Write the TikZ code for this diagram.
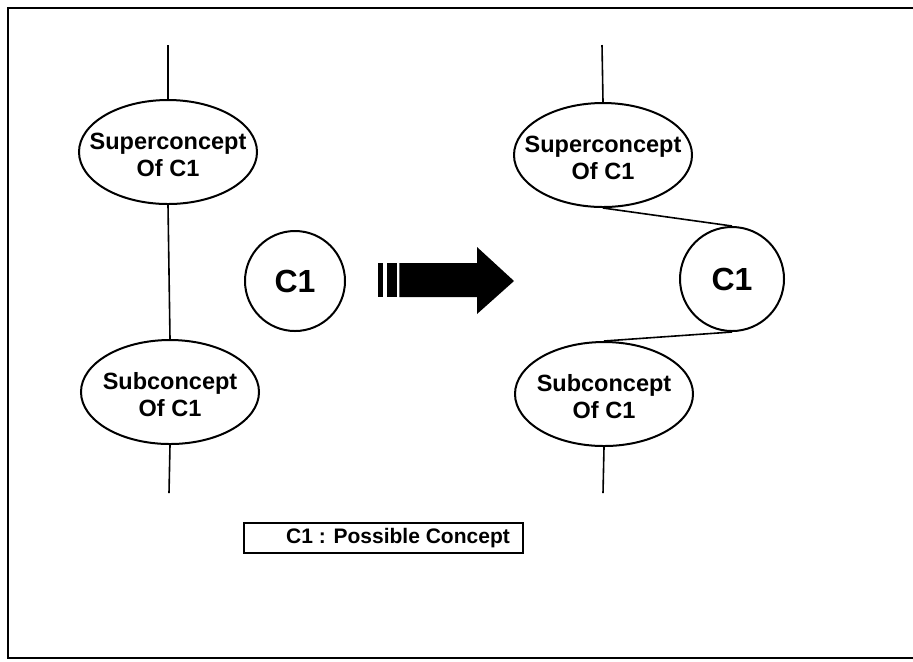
\documentclass[tikz,border=0pt]{standalone}
\usepackage{fontspec}
\setmainfont{Liberation Sans}
\usetikzlibrary{shapes.geometric}
\begin{document}
\begin{tikzpicture}[x=0.5pt,y=-0.5pt,
  concept/.style={draw,ellipse,line width=1pt,minimum width=89pt,minimum height=52pt,inner sep=0pt},
  conceptlabel/.style={align=center,font=\fontsize{11.75}{13.5}\selectfont\bfseries,inner sep=0pt},
  cnode/.style={draw,circle,line width=1pt,inner sep=0pt},
  clabel/.style={font=\fontsize{16}{18}\selectfont\bfseries,inner sep=0pt},
  link/.style={line width=0.8pt}]
\useasboundingbox (0,0) rectangle (913,661);
% open frame
\draw[line width=1.3pt] (913,8) -- (8,8) -- (8,658) -- (913,658);

% left: before insertion
\coordinate (ltop) at (168,45);
\coordinate (lbot) at (169,493);
\node[concept] (sup1) at (168,152) {};
\node[conceptlabel] (sup1t) at (168,155) {Superconcept\\Of C1};
\node[concept] (sub1) at (170,392) {};
\node[conceptlabel] (sub1t) at (170,395) {Subconcept\\Of C1};
\node[cnode,minimum size=50pt] (c1) at (295,281) {};
\node[clabel] (c1t) at (295,281) {C1};
\draw[link] (ltop) -- (sup1.north);
\draw[link] (sup1.south) -- (sub1.north);
\draw[link] (sub1.south) -- (lbot);

% big arrow
\fill (378,263) rectangle (383.3,297);
\fill (386.7,263) rectangle (396.7,297);
\fill (399.3,263) -- (477,263) -- (477,247) -- (514,281) -- (477,314) -- (477,297) -- (399.3,297) -- cycle;

% right: after insertion
\coordinate (rtop) at (602,45);
\coordinate (rbot) at (603,493);
\node[concept] (sup2) at (603,155) {};
\node[conceptlabel] (sup2t) at (603,158) {Superconcept\\Of C1};
\node[concept] (sub2) at (604,394) {};
\node[conceptlabel] (sub2t) at (604,397) {Subconcept\\Of C1};
\node[cnode,minimum size=52pt] (c2) at (732,279) {};
\node[clabel] (c2t) at (732,279) {C1};
\draw[link] (rtop) -- (sup2.north);
\draw[link] (sup2.south) -- (c2.north);
\draw[link] (c2.south) -- (sub2.north);
\draw[link] (sub2.south) -- (rbot);

% legend
\node[draw,line width=1pt,minimum width=139.5pt,minimum height=15pt,inner sep=0pt] (legend) at (383.5,538) {};
\node[font=\fontsize{10.5}{12}\selectfont\bfseries,inner sep=0pt] (legendt) at (398,538) {C1 : Possible Concept};
\end{tikzpicture}
\end{document}
